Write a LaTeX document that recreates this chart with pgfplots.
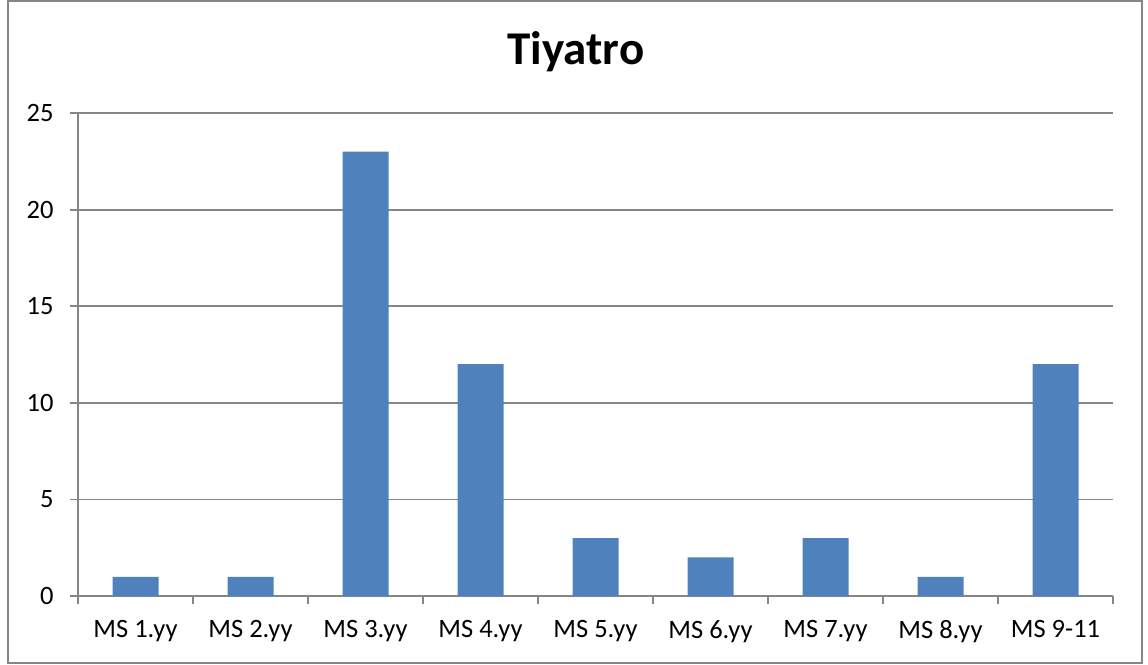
\documentclass[border=0pt]{standalone}
\usepackage{pgfplots}
\pgfplotsset{compat=1.18}
\usepackage{fontspec}
\setmainfont{Carlito}
\definecolor{barblue}{HTML}{4F81BD}
\definecolor{gridgray}{HTML}{868686}
\begin{document}
\begin{tikzpicture}
\begin{axis}[
  scale only axis, width=1035pt, height=483pt,
  xmin=-0.5, xmax=8.5, ymin=0, ymax=25,
  axis lines*=left,
  axis line style={gridgray,line width=1.8pt},
  ytick={0,5,...,25},
  ymajorgrids, grid style={gridgray,line width=1.8pt},
  xtick={0,...,8},
  xticklabels={MS 1.yy,MS 2.yy,MS 3.yy,MS 4.yy,MS 5.yy,MS 6.yy,MS 7.yy,MS 8.yy,MS 9-11},
  minor xtick={-0.5,0.5,...,8.5},
  major x tick style={draw=none},
  minor x tick style={gridgray,line width=1.8pt},
  y tick style={gridgray,line width=1.8pt},
  tick align=outside,
  major tick length=8pt, minor tick length=8pt,
  ticklabel style={font=\fontsize{26.5}{30}\selectfont, text=black},
  /pgf/number format/assume math mode=true,
  yticklabel style={xshift=-13pt},
  xticklabel style={yshift=-13pt},
  clip=false,
]
\addplot[ybar, bar width=46pt, fill=barblue, draw=none] coordinates {
(0,1) (1,1) (2,23) (3,12) (4,3) (5,2) (6,3) (7,1) (8,12)};
\path (axis description cs:-0.0754,-0.1408) rectangle (axis description cs:1.0338,1.2340);
\draw[gridgray,line width=2pt] (axis description cs:-0.0676,-0.1387) rectangle (axis description cs:1.028,1.232);
\node[anchor=center,font=\fontsize{47}{52}\selectfont\bfseries] at (axis description cs:0.481,1.126) {Tiyatro};
\end{axis}
\end{tikzpicture}
\end{document}
